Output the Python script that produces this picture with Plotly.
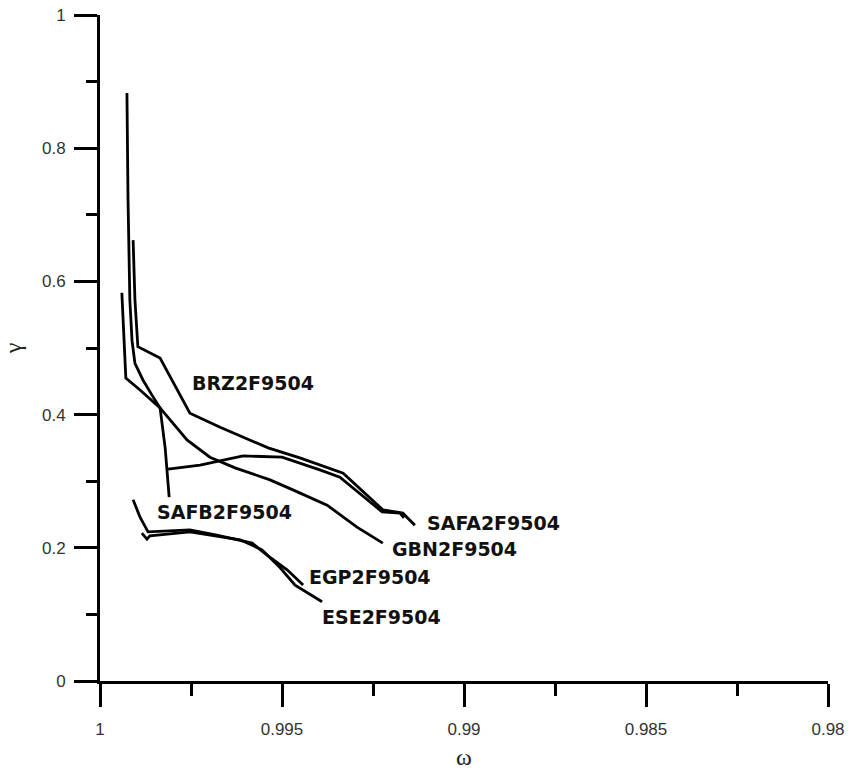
import plotly.graph_objects as go

# ---- data (omega, gamma) ----
brz_x = [0.99909, 0.99904, 0.99896, 0.99835, 0.99753, 0.99670, 0.99538, 0.99451, 0.99332, 0.99223, 0.99168, 0.99135]
brz_y = [0.662, 0.572, 0.502, 0.485, 0.402, 0.381, 0.350, 0.335, 0.312, 0.257, 0.252, 0.234]

safb_x = [0.99926, 0.99923, 0.99918, 0.99912, 0.99904, 0.99882, 0.99858, 0.99835, 0.99821, 0.99813, 0.99810]
safb_y = [0.883, 0.722, 0.572, 0.511, 0.477, 0.452, 0.430, 0.410, 0.350, 0.302, 0.276]

safa_x = [0.99813, 0.99725, 0.99607, 0.99500, 0.99396, 0.99341, 0.99225, 0.99176, 0.99165]
safa_y = [0.318, 0.324, 0.338, 0.336, 0.317, 0.306, 0.254, 0.252, 0.245]

gbn_x = [0.99940, 0.99929, 0.99890, 0.99835, 0.99761, 0.99698, 0.99629, 0.99533, 0.99470, 0.99376, 0.99294, 0.99223]
gbn_y = [0.583, 0.455, 0.437, 0.410, 0.362, 0.336, 0.320, 0.302, 0.287, 0.264, 0.231, 0.207]

egp_x = [0.99909, 0.99890, 0.99868, 0.99753, 0.99679, 0.99582, 0.99541, 0.99486, 0.99442]
egp_y = [0.272, 0.246, 0.224, 0.227, 0.219, 0.207, 0.189, 0.167, 0.144]

ese_x = [0.99885, 0.99871, 0.99863, 0.99753, 0.99615, 0.99555, 0.99505, 0.99464, 0.99390]
ese_y = [0.222, 0.213, 0.218, 0.224, 0.212, 0.197, 0.170, 0.144, 0.119]

series_names = ["BRZ2F9504", "SAFB2F9504", "SAFA2F9504", "GBN2F9504", "EGP2F9504", "ESE2F9504"]
label_x = [0.99753, 0.99849, 0.99107, 0.99203, 0.99431, 0.99396]
label_y = [0.447, 0.254, 0.237, 0.198, 0.156, 0.096]

x_tickvals = [1.0, 0.995, 0.99, 0.985, 0.98]
x_ticktext = ["1", "0.995", "0.99", "0.985", "0.98"]
y_tickvals = [0, 0.2, 0.4, 0.6, 0.8, 1.0]
y_ticktext = ["0", "0.2", "0.4", "0.6", "0.8", "1"]

xs = [brz_x, safb_x, safa_x, gbn_x, egp_x, ese_x]
ys = [brz_y, safb_y, safa_y, gbn_y, egp_y, ese_y]

fig = go.Figure()
for name, x, y in zip(series_names, xs, ys):
    fig.add_trace(go.Scatter(x=x, y=y, mode="lines", name=name,
                             line=dict(color="black", width=2.8),
                             showlegend=False, hoverinfo="skip"))

for name, lx, ly in zip(series_names, label_x, label_y):
    fig.add_annotation(x=lx, y=ly, text="<b>%s</b>" % name, showarrow=False,
                       xanchor="left", yanchor="middle",
                       font=dict(family="DejaVu Sans", size=19, color="#111"))

axis_common = dict(showline=True, linecolor="black", linewidth=3,
                   ticks="outside", ticklen=23, tickwidth=2.5, tickcolor="black",
                   showgrid=False, zeroline=False,
                   tickfont=dict(family="Liberation Sans", size=17, color="#333"))

fig.update_layout(
    width=848, height=772,
    margin=dict(l=100, r=20, t=15, b=91, autoexpand=False),
    paper_bgcolor="white", plot_bgcolor="white",
    xaxis=dict(range=[1.0, 0.98], tickmode="array", tickvals=x_tickvals, ticktext=x_ticktext,
               minor=dict(ticks="outside", ticklen=12, tickwidth=2.5, tickcolor="black",
                          tickmode="linear", tick0=1.0, dtick=0.0025, showgrid=False),
               ticklabelstandoff=8,
               title=dict(text="ω", font=dict(family="Liberation Serif", size=24, color="#222"), standoff=10),
               **axis_common),
    yaxis=dict(range=[0, 1.0], tickmode="array", tickvals=y_tickvals, ticktext=y_ticktext,
               minor=dict(ticks="outside", ticklen=11, tickwidth=2.5, tickcolor="black",
                          tickmode="linear", tick0=0, dtick=0.1, showgrid=False),
               ticklabelstandoff=5,
               title=dict(text="γ", font=dict(family="Liberation Serif", size=24, color="#222"), standoff=16),
               **axis_common),
)

fig.write_html("out.html")
